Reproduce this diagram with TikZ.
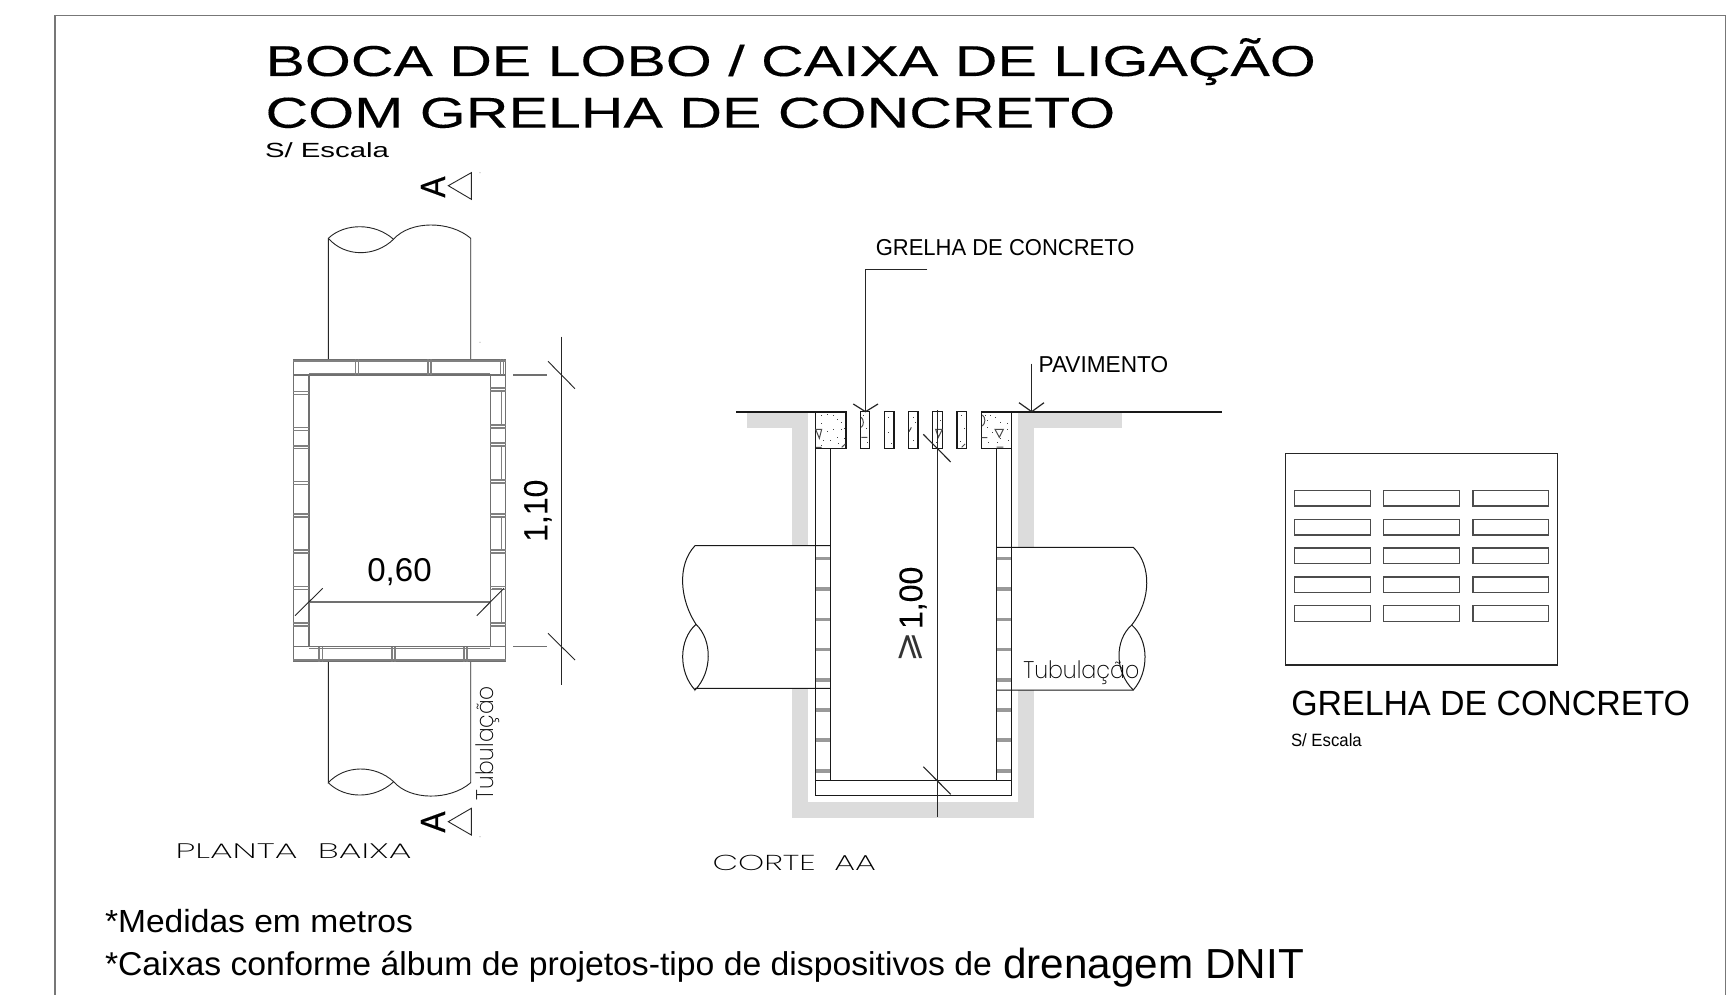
\documentclass[tikz,border=0pt]{standalone}
\usepackage{fontspec}
\usepackage{graphicx}
\setmainfont{Liberation Sans}
\newfontfamily\thinf{Poppins ExtraLight}
\newfontfamily\djv{DejaVu Sans}
\newfontfamily\semib[FakeBold=0.5]{Liberation Sans}
\newfontfamily\slightb[FakeBold=0.2]{Liberation Sans}
\newsavebox\tbox
\newcommand\wt[3]{\sbox\tbox{\fontsize{#2pt}{#2pt}\selectfont #3}\resizebox{#1pt}{2\ht\tbox}{\usebox\tbox}}
\definecolor{gband}{HTML}{DCDCDC}
\definecolor{wallc}{HTML}{707070}
\definecolor{frm}{HTML}{777777}
\tikzset{
  lbl/.style={inner sep=0,outer sep=0,anchor=base west,text=black},
  fine/.style={line width=0.9pt,draw=black!85},
  wall/.style={line width=1.4pt,draw=wallc},
  joint/.style={line width=1.4pt,draw=black!50},
  sect/.style={line width=1pt,draw=black!90},
  jsec/.style={line width=3.6pt,draw=black!40},
  dimln/.style={line width=0.9pt,draw=black!85}
}
\begin{document}
\begin{tikzpicture}[x=1pt,y=-1pt]
\useasboundingbox (0,0) rectangle (1727,995);
\fill[white] (0,0) rectangle (1727,995);
% frame
\draw[line width=1.4pt,draw=frm] (55,995) -- (55,15.7) -- (1725.5,15.7) -- (1725.5,995);
% titles
\node[lbl] (t1) at (265.5,76) {\wt{1050}{21.6}{\slightb BOCA DE LOBO / CAIXA DE LIGAÇÃO}};
\node[lbl] (t2) at (265.5,127.7) {\wt{849.5}{21.6}{\slightb COM GRELHA DE CONCRETO}};
\node[lbl] (t3) at (265,157.3) {\wt{124}{10.25}{S/ Escala}};
% ---- PLANTA BAIXA ----
% section marks
\draw[fine] (471.3,172.7) -- (471.3,199.3) -- (448.3,185.7) -- cycle;
\draw[fine] (471.3,808.3) -- (471.3,835) -- (448.3,821.7) -- cycle;
\node[lbl,rotate=90] (a1) at (445,197.5) {\wt{21}{17.5}{\semib A}};
\node[lbl,rotate=90] (a2) at (445,832.5) {\wt{21}{17.5}{\semib A}};
\fill[black!60] (479.6,172.3) rectangle (480.4,173.1) (479.6,341.9) rectangle (480.4,342.7) (479.6,836.3) rectangle (480.4,837.1);
% pipes
\draw[fine] (328.3,359.3) -- (328.3,238.3)
  .. controls (345,222.7) and (375,222.7) .. (393.5,239.3)
  .. controls (410,220.4) and (450,220.4) .. (470.7,238.3) -- (470.7,359.3);
\draw[fine] (328.3,238.3) .. controls (345,257.3) and (375,257.3) .. (393.5,239.3);
\draw[fine] (328.3,661.7) -- (328.3,782.7)
  .. controls (345,764.6) and (375,764.6) .. (393.7,781.7)
  .. controls (410,800.7) and (450,800.7) .. (470.7,782.7) -- (470.7,661.7);
\draw[fine] (328.3,782.7) .. controls (345,799.3) and (375,799.3) .. (393.7,781.7);
% walls
\draw[wall] (293.3,359.3) rectangle (505.7,661.7);
\draw[wall] (309,375) rectangle (490.3,646.7);
\draw[joint] (293.3,361) -- (505.7,361) (309,373.3) -- (490.3,373.3);
\draw[joint] (293.3,660) -- (505.7,660) (309,648.3) -- (490.3,648.3);
\draw[wall] (293.3,375) -- (309,375) (490.3,375) -- (505.7,375) (293.3,646.7) -- (309,646.7) (490.3,646.7) -- (505.7,646.7);
\foreach \x in {357,429.5,502}{\draw[joint] (\x-1.6,359.3) -- (\x-1.6,375) (\x+1.6,359.3) -- (\x+1.6,375);}
\foreach \x in {320.7,393.5,465.5}{\draw[joint] (\x-1.6,646.7) -- (\x-1.6,661.7) (\x+1.6,646.7) -- (\x+1.6,661.7);}
\foreach \y in {393,429,447.3,483,515.5,551.5,588,624.5}{\draw[joint] (293.3,\y-1.4) -- (309,\y-1.4) (293.3,\y+1.4) -- (309,\y+1.4);}
\foreach \y in {389.5,426.5,444.5,481.5,515.5,551.5,588,624.5}{\draw[joint] (490.3,\y-1.4) -- (505.7,\y-1.4) (490.3,\y+1.4) -- (505.7,\y+1.4);}
\foreach \a/\b in {391/425,446/480,517/550,589/623}{\draw[joint] (492,\a) -- (501.7,\a) -- (501.7,\b) -- (492,\b);}
% dims plan
\draw[dimln] (561.7,336.7) -- (561.7,685);
\draw[wall,line width=1.1pt] (513.3,375) -- (547.3,375) (513.3,646.7) -- (547.3,646.7);
\draw[dimln] (548,361.3) -- (575,388.7) (548,633.3) -- (575,660);
\draw[wall,line width=1.2pt] (309,602) -- (490.3,602);
\draw[dimln] (295,615.7) -- (322.7,588.3) (476.7,615.7) -- (504,588.3);
\node[lbl,rotate=90] (d110) at (547.3,541.7) {\wt{62}{16.75}{\slightb 1,10}};
\node[lbl] (d060) at (367.3,581.7) {\wt{64.4}{16.5}{0,60}};
\node[lbl,rotate=90] (tub1) at (493.3,800) {\wt{114}{12}{\thinf Tubulação}};
\node[lbl] (pb) at (175.5,858.5) {\wt{236}{10.5}{\thinf PLANTA\ \ BAIXA}};
% ---- CORTE AA ----
\fill[gband] (746.7,412) rectangle (808,427.7);
\fill[gband] (792,412) rectangle (808,545.7);
\fill[gband] (792,688.3) rectangle (808.3,818.3);
\fill[gband] (792,802.3) rectangle (1034,818.3);
\fill[gband] (1018,412) rectangle (1122.3,427.7);
\fill[gband] (1018,412) rectangle (1034,547.3);
\fill[gband] (1018,690) rectangle (1034,818.3);
% wall joints
\foreach \y in {558.3,589,619.3,649.3,680,710,740,770.7}{
  \draw[jsec] (815,\y) -- (830,\y);
  \draw[jsec] (996.3,\y) -- (1011.7,\y);}
\draw[sect] (815,411.7) -- (815,795.7) -- (1011.7,795.7) -- (1011.7,411.7);
\draw[sect] (830,448.3) -- (830,780) (996.5,448.3) -- (996.5,780) (815,780) -- (1011.7,780);
% ground
\draw[line width=1.7pt,black!90] (736,411.7) -- (846,411.7);
\draw[line width=1.7pt,black!90] (981.7,411.7) -- (1221.5,411.7);
% grate
\draw[sect,line width=1.2pt] (815.7,411.7) rectangle (846,448.3);
\draw[sect,line width=1.2pt] (981.7,411.7) rectangle (1011.7,448.3);
\foreach \a/\b in {860.3/869.7,884.3/894,908.3/918,932.3/942.7,957/966.7}{\draw[sect,line width=1.2pt] (\a,411.7) rectangle (\b,448.3);}
\begin{scope}[shift={(720,340)},scale=1/3]
 \foreach \p/\q in {303/226,320/222,340/226,350/236,362/245,302/250,320/272,338/268,362/268,350/290,330/300,310/300,372/265,303/316,355/308,372/295,
   428/226,438/265,440/305,503/232,503/275,512/310,578/232,585/245,570/268,578/300,652/226,660/240,648/305,722/226,732/265,720/302,
   795/225,810/226,825/232,840/245,860/250,800/262,815/275,860/268,840/295,805/305,830/305,865/300,800/240}
   {\fill[black!75] (\p,\q) rectangle ++(3,3);}
 \draw[line width=1pt,black!70]
   (287,268) -- (305,268) -- (298,295) -- cycle
   (288,322) -- (305,322) (365,322) -- (376,312)
   (424,292) -- (442,292) (424,232) .. controls (432,240) and (432,255) .. (424,262)
   (567,275) -- (574,262) (647,268) -- (667,268) -- (655,292) -- cycle
   (735,312) -- (725,322)
   (825,268) -- (850,268) -- (838,292) -- cycle
   (785,293) -- (802,293) (830,321) -- (850,321) (787,225) .. controls (797,232) and (797,250) .. (787,258);
\end{scope}
% pipes section
\draw[sect] (830,545.7) -- (695,545.7)
  .. controls (676.7,565) and (680,600) .. (696,624.3)
  .. controls (712.5,640) and (712.5,672) .. (695,690) -- (695,688.3) -- (830,688.3);
\draw[sect] (696,624.3) .. controls (678.4,640) and (678.4,672) .. (695,690);
\draw[sect] (996.3,547.3) -- (1133.3,547.3)
  .. controls (1151.5,565) and (1151.5,600) .. (1131.7,625)
  .. controls (1149.2,640) and (1149.2,672) .. (1133.3,690) -- (996.3,690);
\draw[sect] (1131.7,625) .. controls (1114.5,640) and (1114.5,672) .. (1133.3,690);
% central dim
\draw[dimln] (937,410) -- (937,817.3);
\draw[dimln,line width=1.1pt] (923.3,434.3) -- (950.7,462) (923.3,766.7) -- (950.7,794.3);
\node[lbl,rotate=90] (d100) at (922.3,629) {\wt{62.3}{16.5}{\slightb 1,00}};
\node[lbl,rotate=90,text=black!80] (dge) at (918.6,662.5) {\wt{30.6}{17}{\djv ⩾}};
\node[lbl] (tub2) at (1023.3,678.3) {\wt{116}{12}{\thinf Tubulação}};
\node[lbl] (ca) at (712.5,870) {\wt{163.5}{10.8}{\thinf CORTE\ \ AA}};
% leaders
\coordinate (g0) at (927.3,269.3);
\coordinate (g1) at (865.5,269.3);
\coordinate (g2) at (865.5,411.7);
\draw[fine] (g0) -- (g1) -- (g2);
\draw[fine,line width=1.2pt] (853.3,404) -- (g2) -- (878,404);
\coordinate (p1) at (1031.7,363.5);
\coordinate (p2) at (1031.7,411.7);
\draw[fine] (p1) -- (p2);
\draw[fine,line width=1.2pt] (1019,402.7) -- (p2) -- (1044,402.7);
\node[lbl] (gr) at (875.8,255) {\wt{258.7}{11.5}{GRELHA DE CONCRETO}};
\node[lbl] (pav) at (1038.6,372.8) {\wt{129.5}{11.5}{PAVIMENTO}};
% ---- GRELHA plan ----
\draw[line width=1.2pt,black!85] (1285.3,453.3) rectangle (1557.7,665);
\foreach \a/\b in {490.7/506,519.3/535,548/563.7,577/592.7,605.7/621.3}
  \foreach \c/\d in {1294.3/1370.7,1383.7/1459.7,1473/1548.7}
    {\draw[line width=1.1pt,black!70] (\c,\a) rectangle (\d,\b);}
\node[lbl] (gc) at (1291.3,715.7) {\wt{398.7}{17.5}{GRELHA DE CONCRETO}};
\node[lbl] (se) at (1291,746) {\wt{70.8}{8.9}{S/ Escala}};
% notes
\node[lbl] (n1) at (105,932) {\wt{308}{16}{*Medidas em metros}};
\node[lbl] (n2) at (105,975.7) {\wt{887}{16.5}{*Caixas conforme álbum de projetos-tipo de dispositivos de}};
\node[lbl] (n3) at (1003.4,978.3) {\wt{300.5}{21}{drenagem DNIT}};
\end{tikzpicture}
\end{document}
